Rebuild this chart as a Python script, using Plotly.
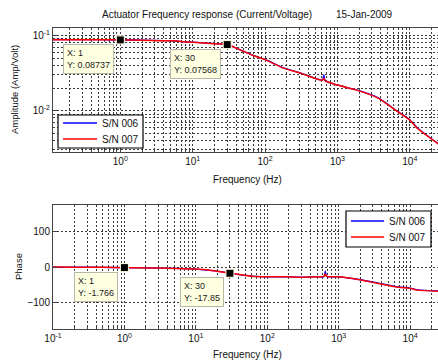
import math
import plotly.graph_objects as go

# ---------------- data ----------------
freq = [0.1, 0.2, 0.5, 1, 2, 5, 10, 20, 30, 50, 70, 100, 180, 300, 540, 620, 650, 680,
        1000, 1800, 3600, 6800, 10000, 12800, 25000]
amp_006 = [0.0885, 0.0883, 0.0879, 0.0874, 0.0868, 0.0850, 0.0815, 0.0780, 0.0757, 0.0620,
           0.0540, 0.0480, 0.0370, 0.0320, 0.0262, 0.0255, 0.0300, 0.0250,
           0.0220, 0.0190, 0.0149, 0.0098, 0.0076, 0.0059, 0.0036]
amp_007 = [0.0880, 0.0880, 0.0877, 0.0874, 0.0867, 0.0849, 0.0813, 0.0779, 0.0757, 0.0618,
           0.0538, 0.0478, 0.0368, 0.0318, 0.0260, 0.0254, 0.0270, 0.0249,
           0.0219, 0.0189, 0.0148, 0.0097, 0.0075, 0.0058, 0.0036]
phase_006 = [-0.3, -0.5, -1.0, -1.8, -2.5, -4.0, -6.0, -12.0, -17.9, -24.0,
             -27.0, -28.0, -28.0, -29.0, -28.0, -28.0, -12.0, -27.0,
             -28.0, -35.0, -46.0, -57.0, -60.0, -65.0, -68.0]
phase_007 = [-0.3, -0.5, -1.0, -1.8, -2.5, -4.0, -6.0, -12.0, -17.8, -24.0,
             -27.0, -28.0, -28.0, -29.0, -28.0, -27.0, -20.0, -27.0,
             -28.0, -35.0, -47.0, -58.0, -61.0, -66.0, -69.0]
tip_x = [1, 30]
tip_amp = [0.08737, 0.07568]
tip_phase = [-1.766, -17.85]

series_names = ["S/N 006", "S/N 007"]
title_main = "Actuator Frequency response (Current/Voltage)"
title_date = "15-Jan-2009"
x_major = [0.1, 1, 10, 100, 1000, 10000]
x_major_text = ["10<sup>-1</sup>", "10<sup>0</sup>", "10<sup>1</sup>", "10<sup>2</sup>",
                "10<sup>3</sup>", "10<sup>4</sup>"]
amp_major = [0.01, 0.1]
amp_major_text = ["10<sup>-2</sup>", "10<sup>-1</sup>"]
phase_ticks = [-100, 0, 100]

# ---------------- styling ----------------
W, H = 438, 360
FONT = "Liberation Sans, Arial, sans-serif"
GRID = "#3a3a3a"
DASH = "2px,2px"
colors = ["#0000ff", "#ff0000"]
widths = [1.3, 1.5]


def px(xp):
    return xp / W


def py(yp):
    return 1 - yp / H


def minor_vals(lo_exp, hi_exp):
    out = []
    for e in range(lo_exp, hi_exp + 1):
        for m in range(2, 10):
            out.append(m * 10 ** e)
    return out


fig = go.Figure()

for name, a, c, w in zip(series_names, [amp_006, amp_007], colors, widths):
    fig.add_trace(go.Scatter(x=freq, y=a, mode="lines", name=name,
                             line=dict(color=c, width=w, shape="spline", smoothing=0.6),
                             xaxis="x", yaxis="y", showlegend=False))
for name, p, c, w in zip(series_names, [phase_006, phase_007], colors, widths):
    fig.add_trace(go.Scatter(x=freq, y=p, mode="lines", name=name,
                             line=dict(color=c, width=w, shape="spline", smoothing=0.6),
                             xaxis="x2", yaxis="y2", showlegend=False))

mk = dict(symbol="square", size=8, color="black", line=dict(color="#ffffe0", width=1))
fig.add_trace(go.Scatter(x=tip_x, y=tip_amp, mode="markers", marker=mk, showlegend=False,
                         xaxis="x", yaxis="y", hoverinfo="skip"))
fig.add_trace(go.Scatter(x=tip_x, y=tip_phase, mode="markers", marker=mk, showlegend=False,
                         xaxis="x2", yaxis="y2", hoverinfo="skip"))

tipfont = dict(family=FONT, size=9, color="#222")
annots = []
for xv, yv in zip(tip_x, tip_amp):
    annots.append(dict(x=math.log10(xv), y=math.log10(yv), xref="x", yref="y",
                       text=f"X: {xv}<br>Y: {yv}", showarrow=False,
                       xanchor="right", yanchor="top", xshift=-6, yshift=-4, align="left",
                       bgcolor="#ffffe1", bordercolor="#b8b8a8", borderwidth=1, borderpad=3,
                       font=tipfont))
for xv, yv in zip(tip_x, tip_phase):
    annots.append(dict(x=math.log10(xv), y=yv, xref="x2", yref="y2",
                       text=f"X: {xv}<br>Y: {yv}", showarrow=False,
                       xanchor="right", yanchor="top", xshift=-6, yshift=-4, align="left",
                       bgcolor="#ffffe1", bordercolor="#b8b8a8", borderwidth=1, borderpad=3,
                       font=tipfont))

tfont = dict(family=FONT, size=10, color="#111")
annots.append(dict(x=px(100), y=py(15), xref="paper", yref="paper", text=title_main, showarrow=False,
                   xanchor="left", yanchor="middle", font=tfont))
annots.append(dict(x=px(395), y=py(15), xref="paper", yref="paper", text=title_date, showarrow=False,
                   xanchor="right", yanchor="middle", font=tfont))
annots.append(dict(x=px(247), y=py(179), xref="paper", yref="paper", text="Frequency (Hz)", showarrow=False,
                   xanchor="center", yanchor="middle", font=tfont))
annots.append(dict(x=px(247), y=py(354), xref="paper", yref="paper", text="Frequency (Hz)", showarrow=False,
                   xanchor="center", yanchor="middle", font=tfont))
annots.append(dict(x=px(14), y=py(90), xref="paper", yref="paper", text="Amplitude (Amp/Volt)", showarrow=False,
                   textangle=-90, xanchor="center", yanchor="middle", font=dict(tfont, size=9.5)))
annots.append(dict(x=px(18), y=py(267), xref="paper", yref="paper", text="Phase", showarrow=False,
                   textangle=-90, xanchor="center", yanchor="middle", font=dict(tfont, size=9.5)))

# ---- legends (box, line samples, labels) ----
shapes = []
legend_boxes = [
    dict(x0=58, y0=115, x1=143, y1=148, lx0=63, lx1=97, tx=100, rows=[123, 139]),
    dict(x0=346, y0=211, x1=431, y1=247, lx0=351, lx1=384, tx=387, rows=[221, 237]),
]
for lb in legend_boxes:
    shapes.append(dict(type="rect", xref="paper", yref="paper", x0=px(lb["x0"]), x1=px(lb["x1"]),
                       y0=py(lb["y1"]), y1=py(lb["y0"]), line=dict(color="black", width=1.2),
                       fillcolor="white", layer="above"))
    for name, c, w, ry in zip(series_names, colors, widths, lb["rows"]):
        shapes.append(dict(type="line", xref="paper", yref="paper", x0=px(lb["lx0"]), x1=px(lb["lx1"]),
                           y0=py(ry), y1=py(ry), line=dict(color=c, width=w + 0.2), layer="above"))
        annots.append(dict(x=px(lb["tx"]), y=py(ry), xref="paper", yref="paper", text=name,
                           showarrow=False, xanchor="left", yanchor="middle",
                           font=dict(family=FONT, size=10, color="#111")))

common_x = dict(type="log", tickmode="array", tickvals=x_major, ticktext=x_major_text,
                showgrid=True, gridcolor=GRID, griddash=DASH, gridwidth=1, automargin=False,
                showline=True, linecolor="#444", linewidth=1, mirror=True,
                ticks="inside", ticklen=4, tickcolor="#444",
                tickfont=dict(family=FONT, size=10, color="#111"), zeroline=False,
                minor=dict(tickmode="array", tickvals=minor_vals(-1, 4), showgrid=True, gridcolor=GRID,
                           griddash=DASH, gridwidth=1, ticks="inside", ticklen=2, tickcolor="#444"))

x0 = px(53)
fig.update_layout(
    template="none",
    width=W, height=H, margin=dict(l=0, r=0, t=0, b=0, autoexpand=False),
    paper_bgcolor="white", plot_bgcolor="white", showlegend=False,
    xaxis=dict(common_x, domain=[x0, 1], range=[-0.93, 4.39], anchor="y"),
    yaxis=dict(type="log", domain=[py(152), py(28)], range=[-2.55, -0.9], anchor="x",
               tickmode="array", tickvals=amp_major, ticktext=amp_major_text, automargin=False,
               showgrid=True, gridcolor=GRID, griddash=DASH, gridwidth=1,
               showline=True, linecolor="#444", linewidth=1, mirror=False,
               ticks="inside", ticklen=4, tickcolor="#444", zeroline=False,
               tickfont=dict(family=FONT, size=10, color="#111"),
               minor=dict(tickmode="array", tickvals=minor_vals(-3, -1), showgrid=True, gridcolor=GRID,
                          griddash=DASH, gridwidth=1, ticks="inside", ticklen=2, tickcolor="#444")),
    xaxis2=dict(common_x, domain=[x0, 1], range=[-1.0, 4.39], anchor="y2"),
    yaxis2=dict(domain=[py(329), py(205)], range=[-177, 177], anchor="x2",
                tickmode="array", tickvals=phase_ticks, automargin=False,
                showgrid=True, gridcolor=GRID, griddash=DASH, gridwidth=1,
                showline=True, linecolor="#444", linewidth=1, mirror=False,
                ticks="inside", ticklen=4, tickcolor="#444", zeroline=False,
                tickfont=dict(family=FONT, size=10, color="#111")),
    annotations=annots,
    shapes=shapes,
)

fig.write_html("out.html")
